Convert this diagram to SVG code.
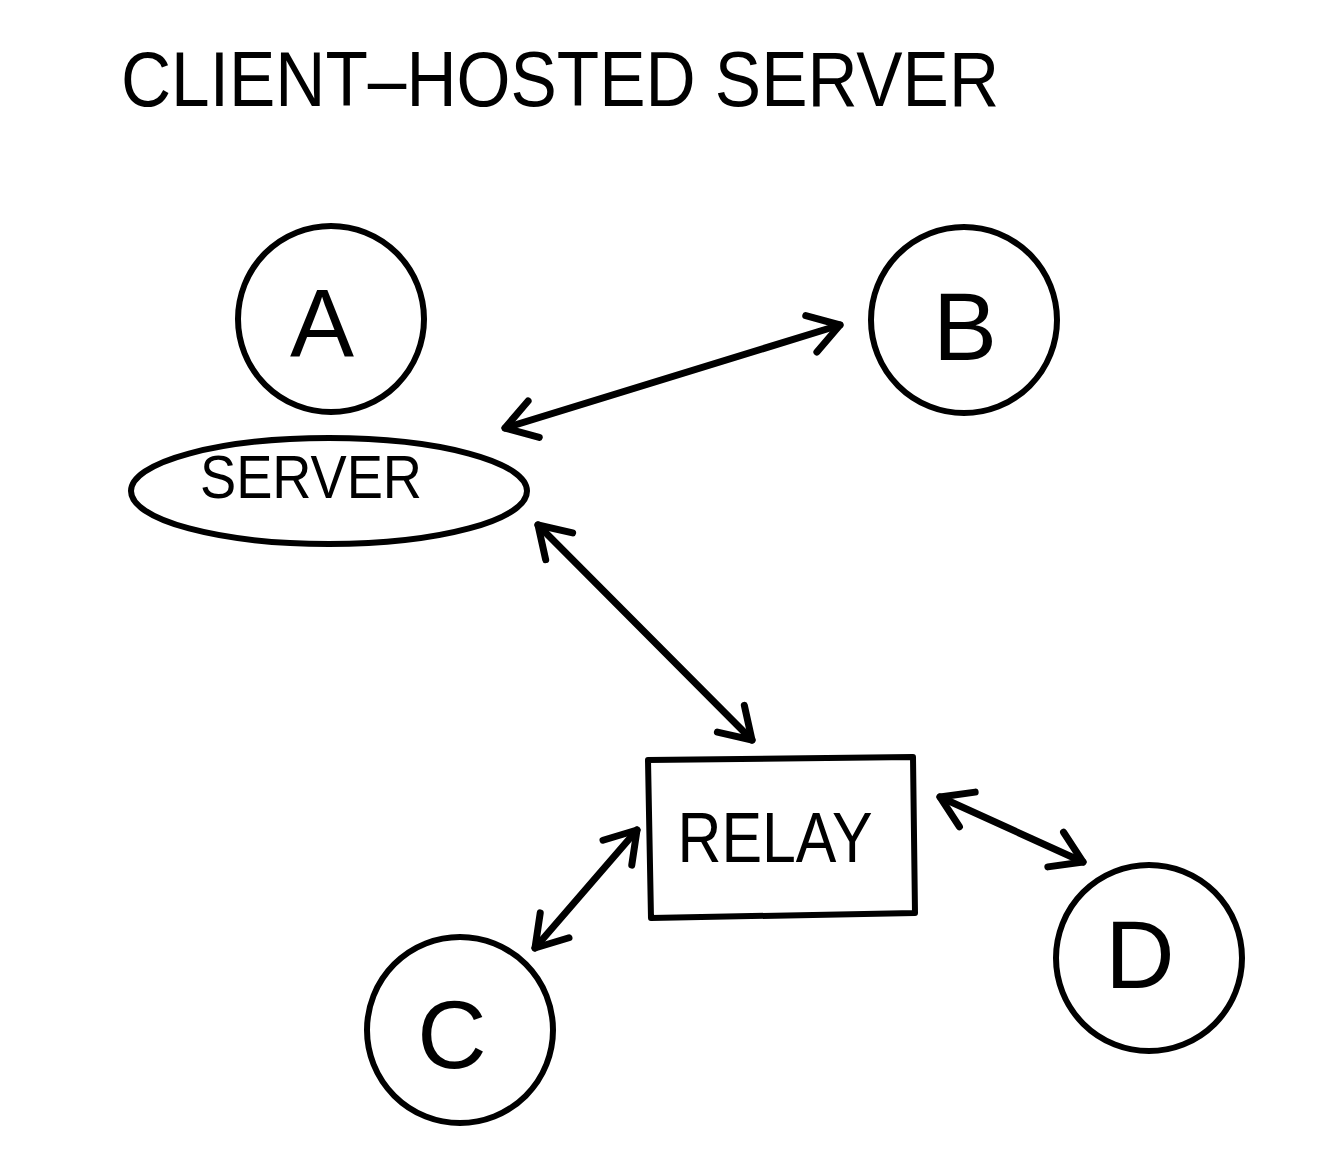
<svg xmlns="http://www.w3.org/2000/svg" width="1324" height="1165" viewBox="0 0 1324 1165">
<style>
.shape{fill:none;stroke:#000;stroke-width:6;stroke-linejoin:round}
.conn{fill:none;stroke:#000;stroke-width:7;stroke-linecap:round}
text{font-family:"Liberation Sans",Arial,sans-serif;fill:#000;text-anchor:middle}
.lbl{font-size:96px}
</style>
<defs>
<marker id="v" markerUnits="userSpaceOnUse" markerWidth="60" markerHeight="60" refX="0" refY="0" viewBox="-40 -30 50 60" orient="auto-start-reverse" overflow="visible">
<path d="M-30,-19 L0,0 L-30,19" fill="none" stroke="#000" stroke-width="7" stroke-linecap="round" stroke-linejoin="round"/>
</marker>
</defs>
<rect width="1324" height="1165" fill="#fff"/>
<text id="title" x="560" y="106" font-size="78" textLength="878" lengthAdjust="spacingAndGlyphs">CLIENT–HOSTED SERVER</text>
<g id="nodeA"><circle class="shape" cx="331" cy="319" r="93"/><text class="lbl" x="322" y="356">A</text></g>
<g id="server"><ellipse class="shape" cx="329" cy="491" rx="198" ry="53"/><text x="311" y="498" font-size="62" textLength="222" lengthAdjust="spacingAndGlyphs">SERVER</text></g>
<g id="nodeB"><circle class="shape" cx="964" cy="320" r="93"/><text class="lbl" x="965" y="360">B</text></g>
<g id="relay"><path class="shape" d="M648,760 L913,757 L915,913 L651,918 Z"/><text x="775" y="862" font-size="70" textLength="195" lengthAdjust="spacingAndGlyphs">RELAY</text></g>
<g id="nodeC"><circle class="shape" cx="460" cy="1030" r="93"/><text class="lbl" x="452" y="1068">C</text></g>
<g id="nodeD"><circle class="shape" cx="1149" cy="958" r="93"/><text class="lbl" x="1140" y="988">D</text></g>
<g id="connectors">
<line class="conn" x1="505" y1="428" x2="840" y2="325" marker-start="url(#v)" marker-end="url(#v)"/>
<line class="conn" x1="538" y1="525" x2="752" y2="740" marker-start="url(#v)" marker-end="url(#v)"/>
<line class="conn" x1="637" y1="830" x2="535" y2="948" marker-start="url(#v)" marker-end="url(#v)"/>
<line class="conn" x1="940" y1="797" x2="1083" y2="862" marker-start="url(#v)" marker-end="url(#v)"/>
</g>
</svg>
